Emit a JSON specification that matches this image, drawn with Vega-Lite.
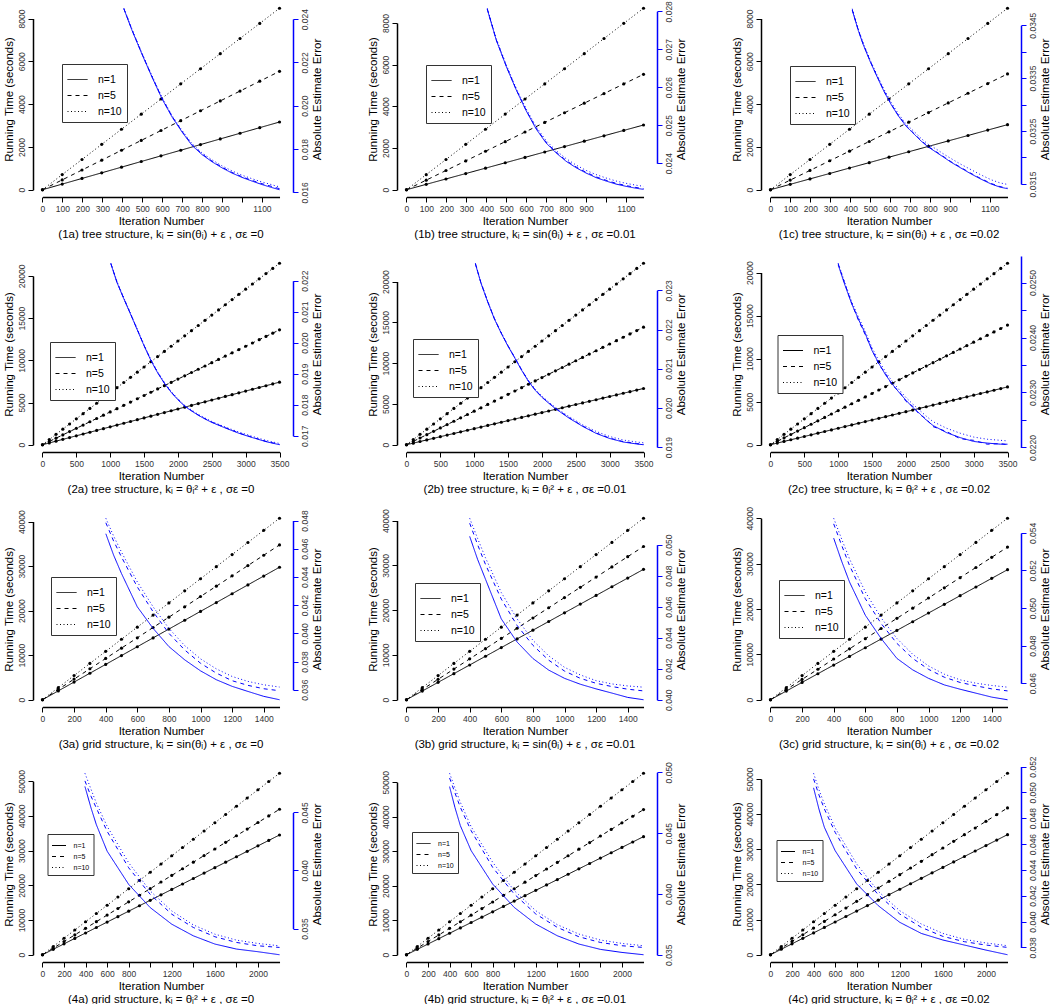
{
"$schema": "https://vega.github.io/schema/vega-lite/v6.json",
"padding": {"left": 2, "top": 0, "right": 0, "bottom": 0},
"background": "white",
"config": {
  "view": {"stroke": null},
  "font": "Liberation Sans",
  "axis": {"labelFont": "Liberation Sans", "titleFont": "Liberation Sans", "labelFontSize": 8.5, "titleFontSize": 11.5, "titleFontWeight": "normal", "titleColor": "black", "labelColor": "#333", "tickSize": 5, "tickColor": "black", "domainColor": "black", "domainWidth": 1.5, "grid": false, "labelFlush": false, "labelOverlap": false, "labelPadding": 2, "titlePadding": 3, "format": "d"},
  "legend": {"strokeColor": "#333", "fillColor": "white", "padding": 5, "labelFont": "Liberation Sans", "labelFontSize": 10.5, "labelColor": "black", "symbolType": "stroke", "symbolStrokeWidth": 1, "symbolSize": 400, "symbolStrokeColor": "black", "labelOffset": 10, "rowPadding": -4},
  "title": {"font": "Liberation Sans", "fontSize": 11.5, "fontWeight": "normal", "color": "black", "offset": 2}
},
"datasets": {
"time": [
{"p":"1a","x":0,"n=1":0,"n=5":0,"n=10":0},{"p":"1a","x":99,"n=1":264,"n=5":461,"n=10":707},{"p":"1a","x":198,"n=1":528,"n=5":922,"n=10":1413},{"p":"1a","x":297,"n=1":791,"n=5":1383,"n=10":2120},{"p":"1a","x":396,"n=1":1055,"n=5":1844,"n=10":2827},{"p":"1a","x":495,"n=1":1319,"n=5":2305,"n=10":3533},{"p":"1a","x":594,"n=1":1583,"n=5":2767,"n=10":4240},{"p":"1a","x":693,"n=1":1846,"n=5":3228,"n=10":4947},{"p":"1a","x":792,"n=1":2110,"n=5":3689,"n=10":5653},{"p":"1a","x":891,"n=1":2374,"n=5":4150,"n=10":6360},{"p":"1a","x":990,"n=1":2638,"n=5":4611,"n=10":7067},{"p":"1a","x":1089,"n=1":2901,"n=5":5072,"n=10":7773},{"p":"1a","x":1188,"n=1":3165,"n=5":5533,"n=10":8480},
{"p":"1b","x":0,"n=1":0,"n=5":0,"n=10":0},{"p":"1b","x":99,"n=1":259,"n=5":461,"n=10":725},{"p":"1b","x":198,"n=1":517,"n=5":923,"n=10":1451},{"p":"1b","x":297,"n=1":776,"n=5":1384,"n=10":2176},{"p":"1b","x":396,"n=1":1035,"n=5":1845,"n=10":2901},{"p":"1b","x":495,"n=1":1293,"n=5":2307,"n=10":3627},{"p":"1b","x":594,"n=1":1552,"n=5":2768,"n=10":4352},{"p":"1b","x":693,"n=1":1811,"n=5":3229,"n=10":5077},{"p":"1b","x":792,"n=1":2069,"n=5":3691,"n=10":5803},{"p":"1b","x":891,"n=1":2328,"n=5":4152,"n=10":6528},{"p":"1b","x":990,"n=1":2587,"n=5":4613,"n=10":7253},{"p":"1b","x":1089,"n=1":2845,"n=5":5075,"n=10":7979},{"p":"1b","x":1188,"n=1":3104,"n=5":5536,"n=10":8704},
{"p":"1c","x":0,"n=1":0,"n=5":0,"n=10":0},{"p":"1c","x":99,"n=1":253,"n=5":451,"n=10":707},{"p":"1c","x":198,"n=1":507,"n=5":902,"n=10":1413},{"p":"1c","x":297,"n=1":760,"n=5":1353,"n=10":2120},{"p":"1c","x":396,"n=1":1014,"n=5":1804,"n=10":2827},{"p":"1c","x":495,"n=1":1267,"n=5":2255,"n=10":3533},{"p":"1c","x":594,"n=1":1521,"n=5":2706,"n=10":4240},{"p":"1c","x":693,"n=1":1774,"n=5":3156,"n=10":4947},{"p":"1c","x":792,"n=1":2027,"n=5":3607,"n=10":5653},{"p":"1c","x":891,"n=1":2281,"n=5":4058,"n=10":6360},{"p":"1c","x":990,"n=1":2534,"n=5":4509,"n=10":7067},{"p":"1c","x":1089,"n=1":2788,"n=5":4960,"n=10":7773},{"p":"1c","x":1188,"n=1":3041,"n=5":5411,"n=10":8480},
{"p":"2a","x":0,"n=1":0,"n=5":0,"n=10":0},{"p":"2a","x":100,"n=1":212,"n=5":389,"n=10":614},{"p":"2a","x":200,"n=1":424,"n=5":778,"n=10":1229},{"p":"2a","x":300,"n=1":636,"n=5":1167,"n=10":1843},{"p":"2a","x":400,"n=1":848,"n=5":1555,"n=10":2457},{"p":"2a","x":500,"n=1":1059,"n=5":1944,"n=10":3071},{"p":"2a","x":600,"n=1":1271,"n=5":2333,"n=10":3686},{"p":"2a","x":700,"n=1":1483,"n=5":2722,"n=10":4300},{"p":"2a","x":800,"n=1":1695,"n=5":3111,"n=10":4914},{"p":"2a","x":900,"n=1":1907,"n=5":3500,"n=10":5529},{"p":"2a","x":1000,"n=1":2119,"n=5":3889,"n=10":6143},{"p":"2a","x":1100,"n=1":2331,"n=5":4277,"n=10":6757},{"p":"2a","x":1200,"n=1":2543,"n=5":4666,"n=10":7371},{"p":"2a","x":1300,"n=1":2755,"n=5":5055,"n=10":7986},{"p":"2a","x":1400,"n=1":2966,"n=5":5444,"n=10":8600},{"p":"2a","x":1500,"n=1":3178,"n=5":5833,"n=10":9214},{"p":"2a","x":1600,"n=1":3390,"n=5":6222,"n=10":9829},{"p":"2a","x":1700,"n=1":3602,"n=5":6611,"n=10":10443},{"p":"2a","x":1800,"n=1":3814,"n=5":6999,"n=10":11057},{"p":"2a","x":1900,"n=1":4026,"n=5":7388,"n=10":11672},{"p":"2a","x":2000,"n=1":4238,"n=5":7777,"n=10":12286},{"p":"2a","x":2100,"n=1":4450,"n=5":8166,"n=10":12900},{"p":"2a","x":2200,"n=1":4662,"n=5":8555,"n=10":13514},{"p":"2a","x":2300,"n=1":4873,"n=5":8944,"n=10":14129},{"p":"2a","x":2400,"n=1":5085,"n=5":9333,"n=10":14743},{"p":"2a","x":2500,"n=1":5297,"n=5":9722,"n=10":15357},{"p":"2a","x":2600,"n=1":5509,"n=5":10110,"n=10":15972},{"p":"2a","x":2700,"n=1":5721,"n=5":10499,"n=10":16586},{"p":"2a","x":2800,"n=1":5933,"n=5":10888,"n=10":17200},{"p":"2a","x":2900,"n=1":6145,"n=5":11277,"n=10":17814},{"p":"2a","x":3000,"n=1":6357,"n=5":11666,"n=10":18429},{"p":"2a","x":3100,"n=1":6569,"n=5":12055,"n=10":19043},{"p":"2a","x":3200,"n=1":6780,"n=5":12444,"n=10":19657},{"p":"2a","x":3300,"n=1":6992,"n=5":12832,"n=10":20272},{"p":"2a","x":3400,"n=1":7204,"n=5":13221,"n=10":20886},{"p":"2a","x":3500,"n=1":7416,"n=5":13610,"n=10":21500},
{"p":"2b","x":0,"n=1":0,"n=5":0,"n=10":0},{"p":"2b","x":100,"n=1":197,"n=5":412,"n=10":636},{"p":"2b","x":200,"n=1":394,"n=5":823,"n=10":1271},{"p":"2b","x":300,"n=1":591,"n=5":1235,"n=10":1907},{"p":"2b","x":400,"n=1":788,"n=5":1647,"n=10":2542},{"p":"2b","x":500,"n=1":985,"n=5":2058,"n=10":3178},{"p":"2b","x":600,"n=1":1183,"n=5":2470,"n=10":3813},{"p":"2b","x":700,"n=1":1380,"n=5":2882,"n=10":4449},{"p":"2b","x":800,"n=1":1577,"n=5":3293,"n=10":5085},{"p":"2b","x":900,"n=1":1774,"n=5":3705,"n=10":5720},{"p":"2b","x":1000,"n=1":1971,"n=5":4117,"n=10":6356},{"p":"2b","x":1100,"n=1":2168,"n=5":4528,"n=10":6991},{"p":"2b","x":1200,"n=1":2365,"n=5":4940,"n=10":7627},{"p":"2b","x":1300,"n=1":2562,"n=5":5352,"n=10":8262},{"p":"2b","x":1400,"n=1":2759,"n=5":5763,"n=10":8898},{"p":"2b","x":1500,"n=1":2956,"n=5":6175,"n=10":9534},{"p":"2b","x":1600,"n=1":3153,"n=5":6587,"n=10":10169},{"p":"2b","x":1700,"n=1":3351,"n=5":6998,"n=10":10805},{"p":"2b","x":1800,"n=1":3548,"n=5":7410,"n=10":11440},{"p":"2b","x":1900,"n=1":3745,"n=5":7822,"n=10":12076},{"p":"2b","x":2000,"n=1":3942,"n=5":8233,"n=10":12711},{"p":"2b","x":2100,"n=1":4139,"n=5":8645,"n=10":13347},{"p":"2b","x":2200,"n=1":4336,"n=5":9057,"n=10":13983},{"p":"2b","x":2300,"n=1":4533,"n=5":9468,"n=10":14618},{"p":"2b","x":2400,"n=1":4730,"n=5":9880,"n=10":15254},{"p":"2b","x":2500,"n=1":4927,"n=5":10292,"n=10":15889},{"p":"2b","x":2600,"n=1":5124,"n=5":10703,"n=10":16525},{"p":"2b","x":2700,"n=1":5321,"n=5":11115,"n=10":17160},{"p":"2b","x":2800,"n=1":5519,"n=5":11526,"n=10":17796},{"p":"2b","x":2900,"n=1":5716,"n=5":11938,"n=10":18432},{"p":"2b","x":3000,"n=1":5913,"n=5":12350,"n=10":19067},{"p":"2b","x":3100,"n=1":6110,"n=5":12761,"n=10":19703},{"p":"2b","x":3200,"n=1":6307,"n=5":13173,"n=10":20338},{"p":"2b","x":3300,"n=1":6504,"n=5":13585,"n=10":20974},{"p":"2b","x":3400,"n=1":6701,"n=5":13996,"n=10":21609},{"p":"2b","x":3500,"n=1":6898,"n=5":14408,"n=10":22245},
{"p":"2c","x":0,"n=1":0,"n=5":0,"n=10":0},{"p":"2c","x":100,"n=1":192,"n=5":397,"n=10":602},{"p":"2c","x":200,"n=1":384,"n=5":794,"n=10":1205},{"p":"2c","x":300,"n=1":576,"n=5":1192,"n=10":1807},{"p":"2c","x":400,"n=1":768,"n=5":1589,"n=10":2410},{"p":"2c","x":500,"n=1":960,"n=5":1986,"n=10":3012},{"p":"2c","x":600,"n=1":1152,"n=5":2383,"n=10":3615},{"p":"2c","x":700,"n=1":1344,"n=5":2781,"n=10":4217},{"p":"2c","x":800,"n=1":1536,"n=5":3178,"n=10":4820},{"p":"2c","x":900,"n=1":1727,"n=5":3575,"n=10":5422},{"p":"2c","x":1000,"n=1":1919,"n=5":3972,"n=10":6025},{"p":"2c","x":1100,"n=1":2111,"n=5":4370,"n=10":6627},{"p":"2c","x":1200,"n=1":2303,"n=5":4767,"n=10":7230},{"p":"2c","x":1300,"n=1":2495,"n=5":5164,"n=10":7832},{"p":"2c","x":1400,"n=1":2687,"n=5":5561,"n=10":8435},{"p":"2c","x":1500,"n=1":2879,"n=5":5958,"n=10":9037},{"p":"2c","x":1600,"n=1":3071,"n=5":6356,"n=10":9640},{"p":"2c","x":1700,"n=1":3263,"n=5":6753,"n=10":10242},{"p":"2c","x":1800,"n=1":3455,"n=5":7150,"n=10":10845},{"p":"2c","x":1900,"n=1":3647,"n=5":7547,"n=10":11447},{"p":"2c","x":2000,"n=1":3839,"n=5":7945,"n=10":12050},{"p":"2c","x":2100,"n=1":4031,"n=5":8342,"n=10":12652},{"p":"2c","x":2200,"n=1":4223,"n=5":8739,"n=10":13255},{"p":"2c","x":2300,"n=1":4415,"n=5":9136,"n=10":13857},{"p":"2c","x":2400,"n=1":4607,"n=5":9534,"n=10":14460},{"p":"2c","x":2500,"n=1":4799,"n=5":9931,"n=10":15062},{"p":"2c","x":2600,"n=1":4990,"n=5":10328,"n=10":15665},{"p":"2c","x":2700,"n=1":5182,"n=5":10725,"n=10":16267},{"p":"2c","x":2800,"n=1":5374,"n=5":11122,"n=10":16870},{"p":"2c","x":2900,"n=1":5566,"n=5":11520,"n=10":17472},{"p":"2c","x":3000,"n=1":5758,"n=5":11917,"n=10":18075},{"p":"2c","x":3100,"n=1":5950,"n=5":12314,"n=10":18677},{"p":"2c","x":3200,"n=1":6142,"n=5":12711,"n=10":19280},{"p":"2c","x":3300,"n=1":6334,"n=5":13109,"n=10":19882},{"p":"2c","x":3400,"n=1":6526,"n=5":13506,"n=10":20485},{"p":"2c","x":3500,"n=1":6718,"n=5":13903,"n=10":21087},
{"p":"3a","x":0,"n=1":0,"n=5":0,"n=10":0},{"p":"3a","x":100,"n=1":1984,"n=5":2318,"n=10":2717},{"p":"3a","x":200,"n=1":3968,"n=5":4635,"n=10":5433},{"p":"3a","x":300,"n=1":5951,"n=5":6953,"n=10":8150},{"p":"3a","x":400,"n=1":7935,"n=5":9271,"n=10":10866},{"p":"3a","x":500,"n=1":9919,"n=5":11589,"n=10":13583},{"p":"3a","x":600,"n=1":11903,"n=5":13906,"n=10":16299},{"p":"3a","x":700,"n=1":13887,"n=5":16224,"n=10":19016},{"p":"3a","x":800,"n=1":15870,"n=5":18542,"n=10":21732},{"p":"3a","x":900,"n=1":17854,"n=5":20859,"n=10":24449},{"p":"3a","x":1000,"n=1":19838,"n=5":23177,"n=10":27165},{"p":"3a","x":1100,"n=1":21822,"n=5":25495,"n=10":29882},{"p":"3a","x":1200,"n=1":23806,"n=5":27812,"n=10":32598},{"p":"3a","x":1300,"n=1":25789,"n=5":30130,"n=10":35315},{"p":"3a","x":1400,"n=1":27773,"n=5":32448,"n=10":38031},{"p":"3a","x":1500,"n=1":29757,"n=5":34766,"n=10":40748},
{"p":"3b","x":0,"n=1":0,"n=5":0,"n=10":0},{"p":"3b","x":100,"n=1":1941,"n=5":2281,"n=10":2701},{"p":"3b","x":200,"n=1":3881,"n=5":4563,"n=10":5402},{"p":"3b","x":300,"n=1":5822,"n=5":6844,"n=10":8104},{"p":"3b","x":400,"n=1":7763,"n=5":9126,"n=10":10805},{"p":"3b","x":500,"n=1":9704,"n=5":11407,"n=10":13506},{"p":"3b","x":600,"n=1":11644,"n=5":13689,"n=10":16207},{"p":"3b","x":700,"n=1":13585,"n=5":15970,"n=10":18908},{"p":"3b","x":800,"n=1":15526,"n=5":18252,"n=10":21610},{"p":"3b","x":900,"n=1":17466,"n=5":20533,"n=10":24311},{"p":"3b","x":1000,"n=1":19407,"n=5":22815,"n=10":27012},{"p":"3b","x":1100,"n=1":21348,"n=5":25096,"n=10":29713},{"p":"3b","x":1200,"n=1":23288,"n=5":27378,"n=10":32414},{"p":"3b","x":1300,"n=1":25229,"n=5":29659,"n=10":35116},{"p":"3b","x":1400,"n=1":27170,"n=5":31941,"n=10":37817},{"p":"3b","x":1500,"n=1":29111,"n=5":34222,"n=10":40518},
{"p":"3c","x":0,"n=1":0,"n=5":0,"n=10":0},{"p":"3c","x":100,"n=1":1911,"n=5":2243,"n=10":2667},{"p":"3c","x":200,"n=1":3822,"n=5":4485,"n=10":5333},{"p":"3c","x":300,"n=1":5733,"n=5":6728,"n=10":8000},{"p":"3c","x":400,"n=1":7644,"n=5":8970,"n=10":10667},{"p":"3c","x":500,"n=1":9555,"n=5":11213,"n=10":13333},{"p":"3c","x":600,"n=1":11466,"n=5":13455,"n=10":16000},{"p":"3c","x":700,"n=1":13377,"n=5":15698,"n=10":18667},{"p":"3c","x":800,"n=1":15288,"n=5":17940,"n=10":21333},{"p":"3c","x":900,"n=1":17199,"n=5":20183,"n=10":24000},{"p":"3c","x":1000,"n=1":19110,"n=5":22425,"n=10":26667},{"p":"3c","x":1100,"n=1":21021,"n=5":24668,"n=10":29333},{"p":"3c","x":1200,"n=1":22932,"n=5":26910,"n=10":32000},{"p":"3c","x":1300,"n=1":24843,"n=5":29153,"n=10":34667},{"p":"3c","x":1400,"n=1":26754,"n=5":31395,"n=10":37333},{"p":"3c","x":1500,"n=1":28665,"n=5":33638,"n=10":40000},
{"p":"4a","x":0,"n=1":0,"n=5":0,"n=10":0},{"p":"4a","x":100,"n=1":1569,"n=5":1906,"n=10":2378},{"p":"4a","x":200,"n=1":3138,"n=5":3811,"n=10":4755},{"p":"4a","x":300,"n=1":4707,"n=5":5717,"n=10":7133},{"p":"4a","x":400,"n=1":6276,"n=5":7622,"n=10":9510},{"p":"4a","x":500,"n=1":7845,"n=5":9528,"n=10":11888},{"p":"4a","x":600,"n=1":9414,"n=5":11434,"n=10":14266},{"p":"4a","x":700,"n=1":10983,"n=5":13339,"n=10":16643},{"p":"4a","x":800,"n=1":12552,"n=5":15245,"n=10":19021},{"p":"4a","x":900,"n=1":14121,"n=5":17150,"n=10":21398},{"p":"4a","x":1000,"n=1":15690,"n=5":19056,"n=10":23776},{"p":"4a","x":1100,"n=1":17259,"n=5":20962,"n=10":26154},{"p":"4a","x":1200,"n=1":18828,"n=5":22867,"n=10":28531},{"p":"4a","x":1300,"n=1":20397,"n=5":24773,"n=10":30909},{"p":"4a","x":1400,"n=1":21966,"n=5":26678,"n=10":33286},{"p":"4a","x":1500,"n=1":23535,"n=5":28584,"n=10":35664},{"p":"4a","x":1600,"n=1":25104,"n=5":30490,"n=10":38042},{"p":"4a","x":1700,"n=1":26673,"n=5":32395,"n=10":40419},{"p":"4a","x":1800,"n=1":28242,"n=5":34301,"n=10":42797},{"p":"4a","x":1900,"n=1":29811,"n=5":36206,"n=10":45174},{"p":"4a","x":2000,"n=1":31380,"n=5":38112,"n=10":47552},{"p":"4a","x":2100,"n=1":32949,"n=5":40018,"n=10":49930},{"p":"4a","x":2200,"n=1":34519,"n=5":41923,"n=10":52308},
{"p":"4b","x":0,"n=1":0,"n=5":0,"n=10":0},{"p":"4b","x":100,"n=1":1556,"n=5":1912,"n=10":2391},{"p":"4b","x":200,"n=1":3112,"n=5":3825,"n=10":4783},{"p":"4b","x":300,"n=1":4669,"n=5":5737,"n=10":7174},{"p":"4b","x":400,"n=1":6225,"n=5":7649,"n=10":9566},{"p":"4b","x":500,"n=1":7781,"n=5":9562,"n=10":11957},{"p":"4b","x":600,"n=1":9337,"n=5":11474,"n=10":14348},{"p":"4b","x":700,"n=1":10893,"n=5":13386,"n=10":16740},{"p":"4b","x":800,"n=1":12450,"n=5":15298,"n=10":19131},{"p":"4b","x":900,"n=1":14006,"n=5":17211,"n=10":21523},{"p":"4b","x":1000,"n=1":15562,"n=5":19123,"n=10":23914},{"p":"4b","x":1100,"n=1":17118,"n=5":21035,"n=10":26305},{"p":"4b","x":1200,"n=1":18674,"n=5":22948,"n=10":28697},{"p":"4b","x":1300,"n=1":20231,"n=5":24860,"n=10":31088},{"p":"4b","x":1400,"n=1":21787,"n=5":26772,"n=10":33480},{"p":"4b","x":1500,"n=1":23343,"n=5":28685,"n=10":35871},{"p":"4b","x":1600,"n=1":24899,"n=5":30597,"n=10":38262},{"p":"4b","x":1700,"n=1":26455,"n=5":32509,"n=10":40654},{"p":"4b","x":1800,"n=1":28012,"n=5":34421,"n=10":43045},{"p":"4b","x":1900,"n=1":29568,"n=5":36334,"n=10":45437},{"p":"4b","x":2000,"n=1":31124,"n=5":38246,"n=10":47828},{"p":"4b","x":2100,"n=1":32680,"n=5":40158,"n=10":50219},{"p":"4b","x":2200,"n=1":34236,"n=5":42070,"n=10":52611},
{"p":"4c","x":0,"n=1":0,"n=5":0,"n=10":0},{"p":"4c","x":100,"n=1":1553,"n=5":1898,"n=10":2346},{"p":"4c","x":200,"n=1":3105,"n=5":3795,"n=10":4692},{"p":"4c","x":300,"n=1":4658,"n=5":5693,"n=10":7038},{"p":"4c","x":400,"n=1":6210,"n=5":7590,"n=10":9384},{"p":"4c","x":500,"n=1":7763,"n=5":9488,"n=10":11730},{"p":"4c","x":600,"n=1":9315,"n=5":11385,"n=10":14076},{"p":"4c","x":700,"n=1":10868,"n=5":13283,"n=10":16422},{"p":"4c","x":800,"n=1":12420,"n=5":15180,"n=10":18768},{"p":"4c","x":900,"n=1":13973,"n=5":17078,"n=10":21114},{"p":"4c","x":1000,"n=1":15525,"n=5":18975,"n=10":23460},{"p":"4c","x":1100,"n=1":17078,"n=5":20873,"n=10":25806},{"p":"4c","x":1200,"n=1":18630,"n=5":22770,"n=10":28152},{"p":"4c","x":1300,"n=1":20183,"n=5":24668,"n=10":30498},{"p":"4c","x":1400,"n=1":21735,"n=5":26565,"n=10":32844},{"p":"4c","x":1500,"n=1":23288,"n=5":28463,"n=10":35190},{"p":"4c","x":1600,"n=1":24840,"n=5":30360,"n=10":37536},{"p":"4c","x":1700,"n=1":26393,"n=5":32258,"n=10":39882},{"p":"4c","x":1800,"n=1":27945,"n=5":34155,"n=10":42228},{"p":"4c","x":1900,"n=1":29498,"n=5":36053,"n=10":44574},{"p":"4c","x":2000,"n=1":31050,"n=5":37950,"n=10":46920},{"p":"4c","x":2100,"n=1":32603,"n=5":39848,"n=10":49266},{"p":"4c","x":2200,"n=1":34156,"n=5":41746,"n=10":51612}
],
"err": [
{"p":"1a","x":408,"n=1":0.02447,"n=5":0.02448,"n=10":0.0245},{"p":"1a","x":450,"n=1":0.02345,"n=5":0.02347,"n=10":0.0235},{"p":"1a","x":500,"n=1":0.02235,"n=5":0.02237,"n=10":0.0224},{"p":"1a","x":550,"n=1":0.0213,"n=5":0.02132,"n=10":0.02136},{"p":"1a","x":600,"n=1":0.0203,"n=5":0.02033,"n=10":0.02037},{"p":"1a","x":650,"n=1":0.01947,"n=5":0.0195,"n=10":0.01954},{"p":"1a","x":700,"n=1":0.01878,"n=5":0.01881,"n=10":0.01885},{"p":"1a","x":750,"n=1":0.01816,"n=5":0.01819,"n=10":0.01824},{"p":"1a","x":800,"n=1":0.01774,"n=5":0.01777,"n=10":0.01782},{"p":"1a","x":850,"n=1":0.01741,"n=5":0.01744,"n=10":0.0175},{"p":"1a","x":900,"n=1":0.01713,"n=5":0.01716,"n=10":0.01722},{"p":"1a","x":950,"n=1":0.01689,"n=5":0.01692,"n=10":0.01699},{"p":"1a","x":1000,"n=1":0.01669,"n=5":0.01672,"n=10":0.01679},{"p":"1a","x":1050,"n=1":0.01652,"n=5":0.01655,"n=10":0.01663},{"p":"1a","x":1100,"n=1":0.01636,"n=5":0.0164,"n=10":0.01648},{"p":"1a","x":1150,"n=1":0.01622,"n=5":0.01627,"n=10":0.01635},{"p":"1a","x":1188,"n=1":0.01612,"n=5":0.01617,"n=10":0.01625},
{"p":"1b","x":405,"n=1":0.02805,"n=5":0.02806,"n=10":0.02808},{"p":"1b","x":450,"n=1":0.02724,"n=5":0.02725,"n=10":0.02728},{"p":"1b","x":500,"n=1":0.02655,"n=5":0.02656,"n=10":0.02659},{"p":"1b","x":550,"n=1":0.02593,"n=5":0.02594,"n=10":0.02597},{"p":"1b","x":600,"n=1":0.02538,"n=5":0.02539,"n=10":0.02543},{"p":"1b","x":650,"n=1":0.0249,"n=5":0.02492,"n=10":0.02496},{"p":"1b","x":700,"n=1":0.02453,"n=5":0.02455,"n=10":0.02459},{"p":"1b","x":750,"n=1":0.02427,"n=5":0.02429,"n=10":0.02433},{"p":"1b","x":800,"n=1":0.02405,"n=5":0.02407,"n=10":0.02412},{"p":"1b","x":850,"n=1":0.02388,"n=5":0.0239,"n=10":0.02395},{"p":"1b","x":900,"n=1":0.02374,"n=5":0.02376,"n=10":0.02381},{"p":"1b","x":950,"n=1":0.02362,"n=5":0.02364,"n=10":0.0237},{"p":"1b","x":1000,"n=1":0.02353,"n=5":0.02355,"n=10":0.02361},{"p":"1b","x":1050,"n=1":0.02345,"n=5":0.02347,"n=10":0.02353},{"p":"1b","x":1100,"n=1":0.02339,"n=5":0.02341,"n=10":0.02347},{"p":"1b","x":1150,"n=1":0.02334,"n=5":0.02336,"n=10":0.02342},{"p":"1b","x":1188,"n=1":0.02331,"n=5":0.02333,"n=10":0.02339},
{"p":"1c","x":410,"n=1":0.03478,"n=5":0.03479,"n=10":0.03481},{"p":"1c","x":440,"n=1":0.0344,"n=5":0.03441,"n=10":0.03443},{"p":"1c","x":465,"n=1":0.03413,"n=5":0.03414,"n=10":0.03416},{"p":"1c","x":500,"n=1":0.03381,"n=5":0.03382,"n=10":0.03384},{"p":"1c","x":530,"n=1":0.03356,"n=5":0.03357,"n=10":0.03359},{"p":"1c","x":570,"n=1":0.03324,"n=5":0.03325,"n=10":0.03328},{"p":"1c","x":605,"n=1":0.033,"n=5":0.03301,"n=10":0.03304},{"p":"1c","x":640,"n=1":0.03279,"n=5":0.0328,"n=10":0.03283},{"p":"1c","x":680,"n=1":0.03259,"n=5":0.0326,"n=10":0.03263},{"p":"1c","x":720,"n=1":0.03244,"n=5":0.03245,"n=10":0.03249},{"p":"1c","x":755,"n=1":0.03231,"n=5":0.03232,"n=10":0.03236},{"p":"1c","x":790,"n=1":0.0322,"n=5":0.03221,"n=10":0.03225},{"p":"1c","x":830,"n=1":0.0321,"n=5":0.03211,"n=10":0.03216},{"p":"1c","x":870,"n=1":0.032,"n=5":0.03201,"n=10":0.03206},{"p":"1c","x":905,"n=1":0.03191,"n=5":0.03192,"n=10":0.03198},{"p":"1c","x":950,"n=1":0.03181,"n=5":0.03182,"n=10":0.03188},{"p":"1c","x":1005,"n=1":0.03169,"n=5":0.0317,"n=10":0.03177},{"p":"1c","x":1050,"n=1":0.0316,"n=5":0.03161,"n=10":0.03168},{"p":"1c","x":1105,"n=1":0.0315,"n=5":0.03151,"n=10":0.03158},{"p":"1c","x":1150,"n=1":0.03144,"n=5":0.03145,"n=10":0.03152},{"p":"1c","x":1188,"n=1":0.03141,"n=5":0.03142,"n=10":0.03149},
{"p":"2a","x":1010,"n=1":0.02254,"n=5":0.02255,"n=10":0.02256},{"p":"2a","x":1100,"n=1":0.02194,"n=5":0.02195,"n=10":0.02197},{"p":"2a","x":1200,"n=1":0.02142,"n=5":0.02143,"n=10":0.02145},{"p":"2a","x":1300,"n=1":0.02092,"n=5":0.02093,"n=10":0.02095},{"p":"2a","x":1400,"n=1":0.02041,"n=5":0.02042,"n=10":0.02044},{"p":"2a","x":1500,"n=1":0.0199,"n=5":0.01991,"n=10":0.01993},{"p":"2a","x":1600,"n=1":0.01943,"n=5":0.01944,"n=10":0.01946},{"p":"2a","x":1700,"n=1":0.01903,"n=5":0.01904,"n=10":0.01906},{"p":"2a","x":1800,"n=1":0.01869,"n=5":0.0187,"n=10":0.01872},{"p":"2a","x":1900,"n=1":0.0184,"n=5":0.01841,"n=10":0.01843},{"p":"2a","x":2000,"n=1":0.01816,"n=5":0.01817,"n=10":0.01819},{"p":"2a","x":2100,"n=1":0.01795,"n=5":0.01796,"n=10":0.01798},{"p":"2a","x":2200,"n=1":0.0178,"n=5":0.01781,"n=10":0.01783},{"p":"2a","x":2300,"n=1":0.01766,"n=5":0.01767,"n=10":0.01769},{"p":"2a","x":2400,"n=1":0.01754,"n=5":0.01755,"n=10":0.01757},{"p":"2a","x":2500,"n=1":0.01743,"n=5":0.01744,"n=10":0.01746},{"p":"2a","x":2700,"n=1":0.01725,"n=5":0.01726,"n=10":0.01728},{"p":"2a","x":2900,"n=1":0.01708,"n=5":0.01709,"n=10":0.01712},{"p":"2a","x":3100,"n=1":0.01694,"n=5":0.01695,"n=10":0.01698},{"p":"2a","x":3300,"n=1":0.01681,"n=5":0.01682,"n=10":0.01685},{"p":"2a","x":3500,"n=1":0.01671,"n=5":0.01672,"n=10":0.01675},
{"p":"2b","x":1018,"n=1":0.02367,"n=5":0.02368,"n=10":0.02369},{"p":"2b","x":1100,"n=1":0.02318,"n=5":0.02319,"n=10":0.0232},{"p":"2b","x":1200,"n=1":0.0227,"n=5":0.02271,"n=10":0.02272},{"p":"2b","x":1300,"n=1":0.02226,"n=5":0.02227,"n=10":0.02228},{"p":"2b","x":1400,"n=1":0.0219,"n=5":0.02191,"n=10":0.02192},{"p":"2b","x":1500,"n=1":0.02157,"n=5":0.02158,"n=10":0.02159},{"p":"2b","x":1600,"n=1":0.02127,"n=5":0.02128,"n=10":0.02129},{"p":"2b","x":1700,"n=1":0.02096,"n=5":0.02097,"n=10":0.02098},{"p":"2b","x":1800,"n=1":0.02068,"n=5":0.02069,"n=10":0.0207},{"p":"2b","x":1900,"n=1":0.02045,"n=5":0.02046,"n=10":0.02048},{"p":"2b","x":2000,"n=1":0.02027,"n=5":0.02028,"n=10":0.0203},{"p":"2b","x":2100,"n=1":0.02012,"n=5":0.02013,"n=10":0.02015},{"p":"2b","x":2200,"n=1":0.01998,"n=5":0.01999,"n=10":0.02001},{"p":"2b","x":2400,"n=1":0.01974,"n=5":0.01975,"n=10":0.01978},{"p":"2b","x":2600,"n=1":0.01953,"n=5":0.01954,"n=10":0.01957},{"p":"2b","x":2800,"n=1":0.01935,"n=5":0.01936,"n=10":0.0194},{"p":"2b","x":3000,"n=1":0.01922,"n=5":0.01923,"n=10":0.01927},{"p":"2b","x":3200,"n=1":0.01913,"n=5":0.01914,"n=10":0.01918},{"p":"2b","x":3400,"n=1":0.01908,"n=5":0.01909,"n=10":0.01913},{"p":"2b","x":3500,"n=1":0.01906,"n=5":0.01907,"n=10":0.01911},
{"p":"2c","x":1000,"n=1":0.02532,"n=5":0.02534,"n=10":0.02535},{"p":"2c","x":1100,"n=1":0.02495,"n=5":0.02497,"n=10":0.02499},{"p":"2c","x":1200,"n=1":0.02461,"n=5":0.02462,"n=10":0.02465},{"p":"2c","x":1300,"n=1":0.02433,"n=5":0.02431,"n=10":0.02437},{"p":"2c","x":1400,"n=1":0.02407,"n=5":0.02405,"n=10":0.02411},{"p":"2c","x":1500,"n=1":0.02376,"n=5":0.02378,"n=10":0.02381},{"p":"2c","x":1600,"n=1":0.02353,"n=5":0.02351,"n=10":0.02358},{"p":"2c","x":1700,"n=1":0.02332,"n=5":0.02334,"n=10":0.02337},{"p":"2c","x":1800,"n=1":0.02315,"n=5":0.02313,"n=10":0.0232},{"p":"2c","x":1900,"n=1":0.023,"n=5":0.02302,"n=10":0.02305},{"p":"2c","x":2000,"n=1":0.02286,"n=5":0.02284,"n=10":0.02291},{"p":"2c","x":2100,"n=1":0.02273,"n=5":0.02275,"n=10":0.02279},{"p":"2c","x":2200,"n=1":0.02262,"n=5":0.0226,"n=10":0.02268},{"p":"2c","x":2300,"n=1":0.0225,"n=5":0.02252,"n=10":0.02257},{"p":"2c","x":2400,"n=1":0.0224,"n=5":0.02238,"n=10":0.02247},{"p":"2c","x":2600,"n=1":0.02227,"n=5":0.02229,"n=10":0.02235},{"p":"2c","x":2800,"n=1":0.02218,"n=5":0.02216,"n=10":0.02226},{"p":"2c","x":3000,"n=1":0.02211,"n=5":0.02213,"n=10":0.02219},{"p":"2c","x":3200,"n=1":0.02208,"n=5":0.02206,"n=10":0.02215},{"p":"2c","x":3400,"n=1":0.02206,"n=5":0.02207,"n=10":0.02213},{"p":"2c","x":3500,"n=1":0.02206,"n=5":0.02205,"n=10":0.02212},
{"p":"3a","x":401,"n=1":0.04706,"n=5":0.04784,"n=10":0.04816},{"p":"3a","x":450,"n=1":0.04555,"n=5":0.04655,"n=10":0.0469},{"p":"3a","x":500,"n=1":0.04424,"n=5":0.04541,"n=10":0.04576},{"p":"3a","x":600,"n=1":0.04188,"n=5":0.04329,"n=10":0.04365},{"p":"3a","x":700,"n=1":0.04035,"n=5":0.04153,"n=10":0.04188},{"p":"3a","x":800,"n=1":0.03906,"n=5":0.04,"n=10":0.04035},{"p":"3a","x":900,"n=1":0.03812,"n=5":0.03882,"n=10":0.03913},{"p":"3a","x":1000,"n=1":0.03734,"n=5":0.03788,"n=10":0.03819},{"p":"3a","x":1100,"n=1":0.03671,"n=5":0.03718,"n=10":0.03748},{"p":"3a","x":1200,"n=1":0.03624,"n=5":0.03664,"n=10":0.03694},{"p":"3a","x":1300,"n=1":0.03588,"n=5":0.03631,"n=10":0.03659},{"p":"3a","x":1400,"n=1":0.03553,"n=5":0.03607,"n=10":0.03635},{"p":"3a","x":1500,"n=1":0.03529,"n=5":0.03593,"n=10":0.03619},
{"p":"3b","x":400,"n=1":0.05053,"n=5":0.05138,"n=10":0.0517},{"p":"3b","x":450,"n=1":0.04905,"n=5":0.05,"n=10":0.0504},{"p":"3b","x":500,"n=1":0.04777,"n=5":0.04872,"n=10":0.04915},{"p":"3b","x":600,"n=1":0.04521,"n=5":0.04649,"n=10":0.04691},{"p":"3b","x":700,"n=1":0.04372,"n=5":0.04479,"n=10":0.04521},{"p":"3b","x":800,"n=1":0.04266,"n=5":0.04351,"n=10":0.04383},{"p":"3b","x":900,"n=1":0.04191,"n=5":0.04255,"n=10":0.04283},{"p":"3b","x":1000,"n=1":0.04138,"n=5":0.04185,"n=10":0.04209},{"p":"3b","x":1100,"n=1":0.041,"n=5":0.04138,"n=10":0.0416},{"p":"3b","x":1200,"n=1":0.0407,"n=5":0.04106,"n=10":0.04123},{"p":"3b","x":1300,"n=1":0.04043,"n=5":0.04085,"n=10":0.04102},{"p":"3b","x":1400,"n=1":0.04015,"n=5":0.04068,"n=10":0.04089},{"p":"3b","x":1500,"n=1":0.04,"n=5":0.04057,"n=10":0.04081},
{"p":"3c","x":400,"n=1":0.05372,"n=5":0.05448,"n=10":0.05478},{"p":"3c","x":450,"n=1":0.0525,"n=5":0.05335,"n=10":0.05368},{"p":"3c","x":500,"n=1":0.05139,"n=5":0.05227,"n=10":0.05262},{"p":"3c","x":600,"n=1":0.04962,"n=5":0.0505,"n=10":0.05086},{"p":"3c","x":700,"n=1":0.04838,"n=5":0.04918,"n=10":0.04948},{"p":"3c","x":800,"n=1":0.04732,"n=5":0.04812,"n=10":0.04838},{"p":"3c","x":900,"n=1":0.04671,"n=5":0.04732,"n=10":0.04754},{"p":"3c","x":1000,"n=1":0.04626,"n=5":0.04674,"n=10":0.04692},{"p":"3c","x":1100,"n=1":0.04591,"n=5":0.04632,"n=10":0.04648},{"p":"3c","x":1200,"n=1":0.04568,"n=5":0.04604,"n=10":0.04618},{"p":"3c","x":1300,"n=1":0.04547,"n=5":0.04586,"n=10":0.046},{"p":"3c","x":1400,"n=1":0.04526,"n=5":0.0457,"n=10":0.04588},{"p":"3c","x":1500,"n=1":0.04512,"n=5":0.04559,"n=10":0.04579},
{"p":"4a","x":394,"n=1":0.04723,"n=5":0.04771,"n=10":0.04837},{"p":"4a","x":450,"n=1":0.0454,"n=5":0.0464,"n=10":0.047},{"p":"4a","x":500,"n=1":0.04394,"n=5":0.04537,"n=10":0.0458},{"p":"4a","x":600,"n=1":0.04166,"n=5":0.04337,"n=10":0.0438},{"p":"4a","x":800,"n=1":0.0388,"n=5":0.04023,"n=10":0.04066},{"p":"4a","x":1000,"n=1":0.0368,"n=5":0.03794,"n=10":0.03823},{"p":"4a","x":1200,"n=1":0.03537,"n=5":0.03623,"n=10":0.03651},{"p":"4a","x":1400,"n=1":0.03437,"n=5":0.03509,"n=10":0.03531},{"p":"4a","x":1600,"n=1":0.03366,"n=5":0.03429,"n=10":0.03451},{"p":"4a","x":1800,"n=1":0.03323,"n=5":0.0338,"n=10":0.034},{"p":"4a","x":2000,"n=1":0.033,"n=5":0.03351,"n=10":0.03371},{"p":"4a","x":2200,"n=1":0.03274,"n=5":0.03337,"n=10":0.03351},
{"p":"4b","x":400,"n=1":0.04882,"n=5":0.04953,"n=10":0.04992},{"p":"4b","x":450,"n=1":0.0471,"n=5":0.0483,"n=10":0.0487},{"p":"4b","x":500,"n=1":0.04561,"n=5":0.04712,"n=10":0.04753},{"p":"4b","x":600,"n=1":0.04356,"n=5":0.0452,"n=10":0.04553},{"p":"4b","x":800,"n=1":0.04081,"n=5":0.04218,"n=10":0.0426},{"p":"4b","x":1000,"n=1":0.03889,"n=5":0.03999,"n=10":0.04027},{"p":"4b","x":1200,"n=1":0.03752,"n=5":0.03835,"n=10":0.03862},{"p":"4b","x":1400,"n=1":0.03656,"n=5":0.03725,"n=10":0.03747},{"p":"4b","x":1600,"n=1":0.03588,"n=5":0.03648,"n=10":0.0367},{"p":"4b","x":1800,"n=1":0.03544,"n=5":0.03601,"n=10":0.03621},{"p":"4b","x":2000,"n=1":0.03519,"n=5":0.03574,"n=10":0.03593},{"p":"4b","x":2200,"n=1":0.035,"n=5":0.0356,"n=10":0.03574},
{"p":"4c","x":400,"n=1":0.05035,"n=5":0.05104,"n=10":0.05148},{"p":"4c","x":450,"n=1":0.0487,"n=5":0.0498,"n=10":0.0502},{"p":"4c","x":500,"n=1":0.0473,"n=5":0.04872,"n=10":0.04911},{"p":"4c","x":600,"n=1":0.04549,"n=5":0.04691,"n=10":0.04725},{"p":"4c","x":800,"n=1":0.04291,"n=5":0.04407,"n=10":0.04446},{"p":"4c","x":1000,"n=1":0.04123,"n=5":0.04208,"n=10":0.04234},{"p":"4c","x":1200,"n=1":0.03994,"n=5":0.04058,"n=10":0.04084},{"p":"4c","x":1400,"n=1":0.03908,"n=5":0.03955,"n=10":0.03981},{"p":"4c","x":1600,"n=1":0.03857,"n=5":0.03885,"n=10":0.03908},{"p":"4c","x":1800,"n=1":0.03818,"n=5":0.03844,"n=10":0.03862},{"p":"4c","x":2000,"n=1":0.03779,"n=5":0.03818,"n=10":0.03834},{"p":"4c","x":2200,"n=1":0.03743,"n=5":0.038,"n=10":0.03813}
]
},
"columns": 3,
"bounds": "flush",
"spacing": {"row": 59, "column": 108},
"resolve": {"scale": {"strokeDash": "independent"}, "legend": {"strokeDash": "independent"}},
"concat": [
{"width":256,"height":196,"title":{"text":"(1a) tree structure,  kᵢ = sin(θᵢ) + ε ,  σε =0","orient":"bottom"},
"resolve":{"scale":{"y":"independent"}},
"encoding":{"x":{"field":"x","type":"quantitative","scale":{"domain":[-47.5,1235.5],"nice":false,"zero":false},"axis":{"values":[0,100,200,300,400,500,600,700,800,900,1000,1100],"labelExpr":"datum.value == 1000 ? '' : datum.label","labelOverlap":false,"title":"Iteration Number","domainDash":[0,9.48,237.04,1000]}}},
"layer":[
{"data":{"name":"time"},"transform":[{"filter":"datum.p == '1a'"},{"fold":["n=1","n=5","n=10"],"as":["n","y"]}],
"encoding":{"y":{"field":"y","type":"quantitative","scale":{"domain":[-339,8819],"nice":false,"zero":false},"axis":{"orient":"left","values":[0,2000,4000,6000,8000],"title":"Running Time (seconds)","labelAngle":-90,"labelAlign":"center","labelBaseline":"bottom","domainDash":[0,7.26,171.21,1000]}}},
"layer":[
{"mark":{"type":"line","color":"black","strokeWidth":1},"encoding":{"strokeDash":{"field":"n","type":"nominal","scale":{"domain":["n=1","n=5","n=10"],"range":[[1,0],[4,4],[1,2.5]]},"legend":{"title":null,"orient":"none","legendX":29,"legendY":63}}}},
{"mark":{"type":"circle","color":"black","size":10,"opacity":1},"encoding":{}}
]},
{"data":{"name":"err"},"transform":[{"filter":"datum.p == '1a'"},{"fold":["n=1","n=5","n=10"],"as":["n","y"]}],
"mark":{"type":"line","color":"blue","strokeWidth":1},"encoding":{"y":{"field":"y","type":"quantitative","scale":{"domain":[0.015785,0.024835],"nice":false,"zero":false},"axis":{"orient":"right","values":[0.016,0.018,0.02,0.022,0.024],"format":".3f","title":"Absolute Estimate Error","offset":4,"domainColor":"blue","tickColor":"blue","labelAngle":-90,"labelAlign":"center","labelBaseline":"top","titleAngle":270,"titleBaseline":"top","domainDash":[0,4.66,173.26,1000]}},"strokeDash":{"field":"n","type":"nominal","scale":{"domain":["n=1","n=5","n=10"],"range":[[1,0],[4,4],[1,2.5]]},"legend":{"title":null,"orient":"none","legendX":29,"legendY":63}}}}
]},
{"width":256,"height":196,"title":{"text":"(1b) tree structure,  kᵢ = sin(θᵢ) + ε ,  σε =0.01","orient":"bottom"},
"resolve":{"scale":{"y":"independent"}},
"encoding":{"x":{"field":"x","type":"quantitative","scale":{"domain":[-47.5,1235.5],"nice":false,"zero":false},"axis":{"values":[0,100,200,300,400,500,600,700,800,900,1000,1100],"labelExpr":"datum.value == 1000 ? '' : datum.label","labelOverlap":false,"title":"Iteration Number","domainDash":[0,9.48,237.04,1000]}}},
"layer":[
{"data":{"name":"time"},"transform":[{"filter":"datum.p == '1b'"},{"fold":["n=1","n=5","n=10"],"as":["n","y"]}],
"encoding":{"y":{"field":"y","type":"quantitative","scale":{"domain":[-348,9052],"nice":false,"zero":false},"axis":{"orient":"left","values":[0,2000,4000,6000,8000],"title":"Running Time (seconds)","labelAngle":-90,"labelAlign":"center","labelBaseline":"bottom","domainDash":[0,7.26,166.8,1000]}}},
"layer":[
{"mark":{"type":"line","color":"black","strokeWidth":1},"encoding":{"strokeDash":{"field":"n","type":"nominal","scale":{"domain":["n=1","n=5","n=10"],"range":[[1,0],[4,4],[1,2.5]]},"legend":{"title":null,"orient":"none","legendX":29,"legendY":64}}}},
{"mark":{"type":"circle","color":"black","size":10,"opacity":1},"encoding":{}}
]},
{"data":{"name":"err"},"transform":[{"filter":"datum.p == '1b'"},{"fold":["n=1","n=5","n=10"],"as":["n","y"]}],
"mark":{"type":"line","color":"blue","strokeWidth":1},"encoding":{"y":{"field":"y","type":"quantitative","scale":{"domain":[0.023109,0.028271],"nice":false,"zero":false},"axis":{"orient":"right","values":[0.024,0.025,0.026,0.027,0.028],"format":".3f","title":"Absolute Estimate Error","offset":4,"domainColor":"blue","tickColor":"blue","labelAngle":-90,"labelAlign":"center","labelBaseline":"top","titleAngle":270,"titleBaseline":"top","domainDash":[0,33.83,151.88,1000]}},"strokeDash":{"field":"n","type":"nominal","scale":{"domain":["n=1","n=5","n=10"],"range":[[1,0],[4,4],[1,2.5]]},"legend":{"title":null,"orient":"none","legendX":29,"legendY":64}}}}
]},
{"width":256,"height":196,"title":{"text":"(1c) tree structure,  kᵢ = sin(θᵢ) + ε ,  σε =0.02","orient":"bottom"},
"resolve":{"scale":{"y":"independent"}},
"encoding":{"x":{"field":"x","type":"quantitative","scale":{"domain":[-47.5,1235.5],"nice":false,"zero":false},"axis":{"values":[0,100,200,300,400,500,600,700,800,900,1000,1100],"labelExpr":"datum.value == 1000 ? '' : datum.label","labelOverlap":false,"title":"Iteration Number","domainDash":[0,9.48,237.04,1000]}}},
"layer":[
{"data":{"name":"time"},"transform":[{"filter":"datum.p == '1c'"},{"fold":["n=1","n=5","n=10"],"as":["n","y"]}],
"encoding":{"y":{"field":"y","type":"quantitative","scale":{"domain":[-339,8819],"nice":false,"zero":false},"axis":{"orient":"left","values":[0,2000,4000,6000,8000],"title":"Running Time (seconds)","labelAngle":-90,"labelAlign":"center","labelBaseline":"bottom","domainDash":[0,7.26,171.21,1000]}}},
"layer":[
{"mark":{"type":"line","color":"black","strokeWidth":1},"encoding":{"strokeDash":{"field":"n","type":"nominal","scale":{"domain":["n=1","n=5","n=10"],"range":[[1,0],[4,4],[1,2.5]]},"legend":{"title":null,"orient":"none","legendX":29,"legendY":65}}}},
{"mark":{"type":"circle","color":"black","size":10,"opacity":1},"encoding":{}}
]},
{"data":{"name":"err"},"transform":[{"filter":"datum.p == '1c'"},{"fold":["n=1","n=5","n=10"],"as":["n","y"]}],
"mark":{"type":"line","color":"blue","strokeWidth":1},"encoding":{"y":{"field":"y","type":"quantitative","scale":{"domain":[0.031253,0.034957],"nice":false,"zero":false},"axis":{"orient":"right","values":[0.0315,0.032,0.0325,0.033,0.0335,0.034,0.0345],"labelExpr":"round(datum.value*10000) % 10 == 5 ? format(datum.value, '.4f') : ''","title":"Absolute Estimate Error","offset":4,"domainColor":"blue","tickColor":"blue","labelAngle":-90,"labelAlign":"center","labelBaseline":"top","titleAngle":270,"titleBaseline":"top","domainDash":[0,13.07,158.75,1000]}},"strokeDash":{"field":"n","type":"nominal","scale":{"domain":["n=1","n=5","n=10"],"range":[[1,0],[4,4],[1,2.5]]},"legend":{"title":null,"orient":"none","legendX":29,"legendY":65}}}}
]},
{"width":256,"height":196,"title":{"text":"(2a) tree structure,  kᵢ = θᵢ² + ε ,  σε =0","orient":"bottom"},
"resolve":{"scale":{"y":"independent"}},
"encoding":{"x":{"field":"x","type":"quantitative","scale":{"domain":[-140,3640],"nice":false,"zero":false},"axis":{"values":[0,500,1000,1500,2000,2500,3000,3500],"labelOverlap":false,"title":"Iteration Number","domainDash":[0,9.48,237.04,1000]}}},
"layer":[
{"data":{"name":"time"},"transform":[{"filter":"datum.p == '2a'"},{"fold":["n=1","n=5","n=10"],"as":["n","y"]}],
"encoding":{"y":{"field":"y","type":"quantitative","scale":{"domain":[-860,22360],"nice":false,"zero":false},"axis":{"orient":"left","values":[0,5000,10000,15000,20000],"title":"Running Time (seconds)","labelAngle":-90,"labelAlign":"center","labelBaseline":"bottom","domainDash":[0,7.26,168.82,1000]}}},
"layer":[
{"mark":{"type":"line","color":"black","strokeWidth":1},"encoding":{"strokeDash":{"field":"n","type":"nominal","scale":{"domain":["n=1","n=5","n=10"],"range":[[1,0],[4,4],[1,2.5]]},"legend":{"title":null,"orient":"none","legendX":17,"legendY":86}}}},
{"mark":{"type":"circle","color":"black","size":10,"opacity":1},"encoding":{}}
]},
{"data":{"name":"err"},"transform":[{"filter":"datum.p == '2a'"},{"fold":["n=1","n=5","n=10"],"as":["n","y"]}],
"mark":{"type":"line","color":"blue","strokeWidth":1},"encoding":{"y":{"field":"y","type":"quantitative","scale":{"domain":[0.016476,0.022794],"nice":false,"zero":false},"axis":{"orient":"right","values":[0.017,0.018,0.019,0.02,0.021,0.022],"format":".3f","title":"Absolute Estimate Error","offset":4,"domainColor":"blue","tickColor":"blue","labelAngle":-90,"labelAlign":"center","labelBaseline":"top","titleAngle":270,"titleBaseline":"top","domainDash":[0,16.26,155.11,1000]}},"strokeDash":{"field":"n","type":"nominal","scale":{"domain":["n=1","n=5","n=10"],"range":[[1,0],[4,4],[1,2.5]]},"legend":{"title":null,"orient":"none","legendX":17,"legendY":86}}}}
]},
{"width":256,"height":196,"title":{"text":"(2b) tree structure,  kᵢ = θᵢ² + ε ,  σε =0.01","orient":"bottom"},
"resolve":{"scale":{"y":"independent"}},
"encoding":{"x":{"field":"x","type":"quantitative","scale":{"domain":[-140,3640],"nice":false,"zero":false},"axis":{"values":[0,500,1000,1500,2000,2500,3000,3500],"labelOverlap":false,"title":"Iteration Number","domainDash":[0,9.48,237.04,1000]}}},
"layer":[
{"data":{"name":"time"},"transform":[{"filter":"datum.p == '2b'"},{"fold":["n=1","n=5","n=10"],"as":["n","y"]}],
"encoding":{"y":{"field":"y","type":"quantitative","scale":{"domain":[-890,23135],"nice":false,"zero":false},"axis":{"orient":"left","values":[0,5000,10000,15000,20000],"title":"Running Time (seconds)","labelAngle":-90,"labelAlign":"center","labelBaseline":"bottom","domainDash":[0,7.26,163.17,1000]}}},
"layer":[
{"mark":{"type":"line","color":"black","strokeWidth":1},"encoding":{"strokeDash":{"field":"n","type":"nominal","scale":{"domain":["n=1","n=5","n=10"],"range":[[1,0],[4,4],[1,2.5]]},"legend":{"title":null,"orient":"none","legendX":16,"legendY":83}}}},
{"mark":{"type":"circle","color":"black","size":10,"opacity":1},"encoding":{}}
]},
{"data":{"name":"err"},"transform":[{"filter":"datum.p == '2b'"},{"fold":["n=1","n=5","n=10"],"as":["n","y"]}],
"mark":{"type":"line","color":"blue","strokeWidth":1},"encoding":{"y":{"field":"y","type":"quantitative","scale":{"domain":[0.018875,0.023875],"nice":false,"zero":false},"axis":{"orient":"right","values":[0.019,0.02,0.021,0.022,0.023],"format":".3f","title":"Absolute Estimate Error","offset":4,"domainColor":"blue","tickColor":"blue","labelAngle":-90,"labelAlign":"center","labelBaseline":"top","titleAngle":270,"titleBaseline":"top","domainDash":[0,4.9,156.8,1000]}},"strokeDash":{"field":"n","type":"nominal","scale":{"domain":["n=1","n=5","n=10"],"range":[[1,0],[4,4],[1,2.5]]},"legend":{"title":null,"orient":"none","legendX":16,"legendY":83}}}}
]},
{"width":256,"height":196,"title":{"text":"(2c) tree structure,  kᵢ = θᵢ² + ε ,  σε =0.02","orient":"bottom"},
"resolve":{"scale":{"y":"independent"}},
"encoding":{"x":{"field":"x","type":"quantitative","scale":{"domain":[-140,3640],"nice":false,"zero":false},"axis":{"values":[0,500,1000,1500,2000,2500,3000,3500],"labelOverlap":false,"title":"Iteration Number","domainDash":[0,9.48,237.04,1000]}}},
"layer":[
{"data":{"name":"time"},"transform":[{"filter":"datum.p == '2c'"},{"fold":["n=1","n=5","n=10"],"as":["n","y"]}],
"encoding":{"y":{"field":"y","type":"quantitative","scale":{"domain":[-843,21930],"nice":false,"zero":false},"axis":{"orient":"left","values":[0,5000,10000,15000,20000],"title":"Running Time (seconds)","labelAngle":-90,"labelAlign":"center","labelBaseline":"bottom","domainDash":[0,7.26,172.13,1000]}}},
"layer":[
{"mark":{"type":"line","color":"black","strokeWidth":1},"encoding":{"strokeDash":{"field":"n","type":"nominal","scale":{"domain":["n=1","n=5","n=10"],"range":[[1,0],[4,4],[1,2.5]]},"legend":{"title":null,"orient":"none","legendX":16.5,"legendY":79}}}},
{"mark":{"type":"circle","color":"black","size":10,"opacity":1},"encoding":{}}
]},
{"data":{"name":"err"},"transform":[{"filter":"datum.p == '2c'"},{"fold":["n=1","n=5","n=10"],"as":["n","y"]}],
"mark":{"type":"line","color":"blue","strokeWidth":1},"encoding":{"y":{"field":"y","type":"quantitative","scale":{"domain":[0.021918,0.025482],"nice":false,"zero":false},"axis":{"orient":"right","values":[0.022,0.0225,0.023,0.0235,0.024,0.0245,0.025,0.0255],"labelExpr":"round(datum.value*10000) % 10 == 0 ? format(datum.value, '.4f') : ''","title":"Absolute Estimate Error","offset":4,"domainColor":"blue","tickColor":"blue","labelAngle":-90,"labelAlign":"center","labelBaseline":"top","titleAngle":270,"titleBaseline":"top","domainDash":[0,4.51,192.48,1000]}},"strokeDash":{"field":"n","type":"nominal","scale":{"domain":["n=1","n=5","n=10"],"range":[[1,0],[4,4],[1,2.5]]},"legend":{"title":null,"orient":"none","legendX":16.5,"legendY":79}}}}
]},
{"width":256,"height":196,"title":{"text":"(3a) grid structure,  kᵢ = sin(θᵢ) + ε ,  σε =0","orient":"bottom"},
"resolve":{"scale":{"y":"independent"}},
"encoding":{"x":{"field":"x","type":"quantitative","scale":{"domain":[-60,1560],"nice":false,"zero":false},"axis":{"values":[0,200,400,600,800,1000,1200,1400],"labelOverlap":false,"title":"Iteration Number","domainDash":[0,9.48,237.04,1000]}}},
"layer":[
{"data":{"name":"time"},"transform":[{"filter":"datum.p == '3a'"},{"fold":["n=1","n=5","n=10"],"as":["n","y"]}],
"encoding":{"y":{"field":"y","type":"quantitative","scale":{"domain":[-1630,42378],"nice":false,"zero":false},"axis":{"orient":"left","values":[0,10000,20000,30000,40000],"title":"Running Time (seconds)","labelAngle":-90,"labelAlign":"center","labelBaseline":"bottom","domainDash":[0,7.26,178.15,1000]}}},
"layer":[
{"mark":{"type":"line","color":"black","strokeWidth":1},"encoding":{"strokeDash":{"field":"n","type":"nominal","scale":{"domain":["n=1","n=5","n=10"],"range":[[1,0],[4,4],[1,2.5]]},"legend":{"title":null,"orient":"none","legendX":18,"legendY":66}}}},
{"mark":{"type":"circle","color":"black","size":10,"opacity":1},"encoding":{}}
]},
{"data":{"name":"err"},"transform":[{"filter":"datum.p == '3a'"},{"fold":["n=1","n=5","n=10"],"as":["n","y"]}],
"mark":{"type":"line","color":"blue","strokeWidth":1},"encoding":{"y":{"field":"y","type":"quantitative","scale":{"domain":[0.034775,0.048675],"nice":false,"zero":false},"axis":{"orient":"right","values":[0.036,0.038,0.04,0.042,0.044,0.046,0.048],"format":".3f","title":"Absolute Estimate Error","offset":4,"domainColor":"blue","tickColor":"blue","labelAngle":-90,"labelAlign":"center","labelBaseline":"top","titleAngle":270,"titleBaseline":"top","domainDash":[0,17.27,169.21,1000]}},"strokeDash":{"field":"n","type":"nominal","scale":{"domain":["n=1","n=5","n=10"],"range":[[1,0],[4,4],[1,2.5]]},"legend":{"title":null,"orient":"none","legendX":18,"legendY":66}}}}
]},
{"width":256,"height":196,"title":{"text":"(3b) grid structure,  kᵢ = sin(θᵢ) + ε ,  σε =0.01","orient":"bottom"},
"resolve":{"scale":{"y":"independent"}},
"encoding":{"x":{"field":"x","type":"quantitative","scale":{"domain":[-60,1560],"nice":false,"zero":false},"axis":{"values":[0,200,400,600,800,1000,1200,1400],"labelOverlap":false,"title":"Iteration Number","domainDash":[0,9.48,237.04,1000]}}},
"layer":[
{"data":{"name":"time"},"transform":[{"filter":"datum.p == '3b'"},{"fold":["n=1","n=5","n=10"],"as":["n","y"]}],
"encoding":{"y":{"field":"y","type":"quantitative","scale":{"domain":[-1621,42139],"nice":false,"zero":false},"axis":{"orient":"left","values":[0,10000,20000,30000,40000],"title":"Running Time (seconds)","labelAngle":-90,"labelAlign":"center","labelBaseline":"bottom","domainDash":[0,7.26,179.16,1000]}}},
"layer":[
{"mark":{"type":"line","color":"black","strokeWidth":1},"encoding":{"strokeDash":{"field":"n","type":"nominal","scale":{"domain":["n=1","n=5","n=10"],"range":[[1,0],[4,4],[1,2.5]]},"legend":{"title":null,"orient":"none","legendX":18,"legendY":72}}}},
{"mark":{"type":"circle","color":"black","size":10,"opacity":1},"encoding":{}}
]},
{"data":{"name":"err"},"transform":[{"filter":"datum.p == '3b'"},{"fold":["n=1","n=5","n=10"],"as":["n","y"]}],
"mark":{"type":"line","color":"blue","strokeWidth":1},"encoding":{"y":{"field":"y","type":"quantitative","scale":{"domain":[0.039532,0.052168],"nice":false,"zero":false},"axis":{"orient":"right","values":[0.04,0.042,0.044,0.046,0.048,0.05],"format":".3f","title":"Absolute Estimate Error","offset":4,"domainColor":"blue","tickColor":"blue","labelAngle":-90,"labelAlign":"center","labelBaseline":"top","titleAngle":270,"titleBaseline":"top","domainDash":[0,7.26,155.11,1000]}},"strokeDash":{"field":"n","type":"nominal","scale":{"domain":["n=1","n=5","n=10"],"range":[[1,0],[4,4],[1,2.5]]},"legend":{"title":null,"orient":"none","legendX":18,"legendY":72}}}}
]},
{"width":256,"height":196,"title":{"text":"(3c) grid structure,  kᵢ = sin(θᵢ) + ε ,  σε =0.02","orient":"bottom"},
"resolve":{"scale":{"y":"independent"}},
"encoding":{"x":{"field":"x","type":"quantitative","scale":{"domain":[-60,1560],"nice":false,"zero":false},"axis":{"values":[0,200,400,600,800,1000,1200,1400],"labelOverlap":false,"title":"Iteration Number","domainDash":[0,9.48,237.04,1000]}}},
"layer":[
{"data":{"name":"time"},"transform":[{"filter":"datum.p == '3c'"},{"fold":["n=1","n=5","n=10"],"as":["n","y"]}],
"encoding":{"y":{"field":"y","type":"quantitative","scale":{"domain":[-1600,41600],"nice":false,"zero":false},"axis":{"orient":"left","values":[0,10000,20000,30000,40000],"title":"Running Time (seconds)","labelAngle":-90,"labelAlign":"center","labelBaseline":"bottom","domainDash":[0,7.26,181.48,1000]}}},
"layer":[
{"mark":{"type":"line","color":"black","strokeWidth":1},"encoding":{"strokeDash":{"field":"n","type":"nominal","scale":{"domain":["n=1","n=5","n=10"],"range":[[1,0],[4,4],[1,2.5]]},"legend":{"title":null,"orient":"none","legendX":18,"legendY":69}}}},
{"mark":{"type":"circle","color":"black","size":10,"opacity":1},"encoding":{}}
]},
{"data":{"name":"err"},"transform":[{"filter":"datum.p == '3c'"},{"fold":["n=1","n=5","n=10"],"as":["n","y"]}],
"mark":{"type":"line","color":"blue","strokeWidth":1},"encoding":{"y":{"field":"y","type":"quantitative","scale":{"domain":[0.044734,0.055166],"nice":false,"zero":false},"axis":{"orient":"right","values":[0.046,0.048,0.05,0.052,0.054],"format":".3f","title":"Absolute Estimate Error","offset":4,"domainColor":"blue","tickColor":"blue","labelAngle":-90,"labelAlign":"center","labelBaseline":"top","titleAngle":270,"titleBaseline":"top","domainDash":[0,23.79,150.31,1000]}},"strokeDash":{"field":"n","type":"nominal","scale":{"domain":["n=1","n=5","n=10"],"range":[[1,0],[4,4],[1,2.5]]},"legend":{"title":null,"orient":"none","legendX":18,"legendY":69}}}}
]},
{"width":256,"height":196,"title":{"text":"(4a) grid structure,  kᵢ = θᵢ² + ε ,  σε =0","orient":"bottom"},
"resolve":{"scale":{"y":"independent"}},
"encoding":{"x":{"field":"x","type":"quantitative","scale":{"domain":[-88,2288],"nice":false,"zero":false},"axis":{"values":[0,200,400,600,800,1000,1200,1400,1600,1800,2000],"labelExpr":"(datum.value == 1000 || datum.value == 1400 || datum.value == 1800) ? '' : datum.label","labelOverlap":false,"title":"Iteration Number","domainDash":[0,9.48,237.04,1000]}}},
"layer":[
{"data":{"name":"time"},"transform":[{"filter":"datum.p == '4a'"},{"fold":["n=1","n=5","n=10"],"as":["n","y"]}],
"encoding":{"y":{"field":"y","type":"quantitative","scale":{"domain":[-2092,54400],"nice":false,"zero":false},"axis":{"orient":"left","values":[0,10000,20000,30000,40000,50000],"title":"Running Time (seconds)","labelAngle":-90,"labelAlign":"center","labelBaseline":"bottom","domainDash":[0,7.26,173.47,1000]}}},
"layer":[
{"mark":{"type":"line","color":"black","strokeWidth":1},"encoding":{"strokeDash":{"field":"n","type":"nominal","scale":{"domain":["n=1","n=5","n=10"],"range":[[1,0],[4,4],[1,2.5]]},"legend":{"title":null,"orient":"none","legendX":14.5,"legendY":68,"labelFontSize":7,"symbolSize":196,"labelOffset":7,"padding":4,"rowPadding":-5}}}},
{"mark":{"type":"circle","color":"black","size":10,"opacity":1},"encoding":{}}
]},
{"data":{"name":"err"},"transform":[{"filter":"datum.p == '4a'"},{"fold":["n=1","n=5","n=10"],"as":["n","y"]}],
"mark":{"type":"line","color":"blue","strokeWidth":1},"encoding":{"y":{"field":"y","type":"quantitative","scale":{"domain":[0.032115,0.048995],"nice":false,"zero":false},"axis":{"orient":"right","values":[0.035,0.04,0.045],"format":".3f","title":"Absolute Estimate Error","offset":4,"domainColor":"blue","tickColor":"blue","labelAngle":-90,"labelAlign":"center","labelBaseline":"top","titleAngle":270,"titleBaseline":"top","domainDash":[0,33.5,116.11,1000]}},"strokeDash":{"field":"n","type":"nominal","scale":{"domain":["n=1","n=5","n=10"],"range":[[1,0],[4,4],[1,2.5]]},"legend":{"title":null,"orient":"none","legendX":14.5,"legendY":68,"labelFontSize":7,"symbolSize":196,"labelOffset":7,"padding":4,"rowPadding":-5}}}}
]},
{"width":256,"height":196,"title":{"text":"(4b) grid structure,  kᵢ = θᵢ² + ε ,  σε =0.01","orient":"bottom"},
"resolve":{"scale":{"y":"independent"}},
"encoding":{"x":{"field":"x","type":"quantitative","scale":{"domain":[-88,2288],"nice":false,"zero":false},"axis":{"values":[0,200,400,600,800,1000,1200,1400,1600,1800,2000],"labelExpr":"(datum.value == 1000 || datum.value == 1400 || datum.value == 1800) ? '' : datum.label","labelOverlap":false,"title":"Iteration Number","domainDash":[0,9.48,237.04,1000]}}},
"layer":[
{"data":{"name":"time"},"transform":[{"filter":"datum.p == '4b'"},{"fold":["n=1","n=5","n=10"],"as":["n","y"]}],
"encoding":{"y":{"field":"y","type":"quantitative","scale":{"domain":[-2104,54715],"nice":false,"zero":false},"axis":{"orient":"left","values":[0,10000,20000,30000,40000,50000],"title":"Running Time (seconds)","labelAngle":-90,"labelAlign":"center","labelBaseline":"bottom","domainDash":[0,7.26,172.48,1000]}}},
"layer":[
{"mark":{"type":"line","color":"black","strokeWidth":1},"encoding":{"strokeDash":{"field":"n","type":"nominal","scale":{"domain":["n=1","n=5","n=10"],"range":[[1,0],[4,4],[1,2.5]]},"legend":{"title":null,"orient":"none","legendX":15,"legendY":66,"labelFontSize":7,"symbolSize":196,"labelOffset":7,"padding":4,"rowPadding":-5}}}},
{"mark":{"type":"circle","color":"black","size":10,"opacity":1},"encoding":{}}
]},
{"data":{"name":"err"},"transform":[{"filter":"datum.p == '4b'"},{"fold":["n=1","n=5","n=10"],"as":["n","y"]}],
"mark":{"type":"line","color":"blue","strokeWidth":1},"encoding":{"y":{"field":"y","type":"quantitative","scale":{"domain":[0.034403,0.050517],"nice":false,"zero":false},"axis":{"orient":"right","values":[0.035,0.04,0.045,0.05],"format":".3f","title":"Absolute Estimate Error","offset":4,"domainColor":"blue","tickColor":"blue","labelAngle":-90,"labelAlign":"center","labelBaseline":"top","titleAngle":270,"titleBaseline":"top","domainDash":[0,7.26,182.45,1000]}},"strokeDash":{"field":"n","type":"nominal","scale":{"domain":["n=1","n=5","n=10"],"range":[[1,0],[4,4],[1,2.5]]},"legend":{"title":null,"orient":"none","legendX":15,"legendY":66,"labelFontSize":7,"symbolSize":196,"labelOffset":7,"padding":4,"rowPadding":-5}}}}
]},
{"width":256,"height":196,"title":{"text":"(4c) grid structure,  kᵢ = θᵢ² + ε ,  σε =0.02","orient":"bottom"},
"resolve":{"scale":{"y":"independent"}},
"encoding":{"x":{"field":"x","type":"quantitative","scale":{"domain":[-88,2288],"nice":false,"zero":false},"axis":{"values":[0,200,400,600,800,1000,1200,1400,1600,1800,2000],"labelExpr":"(datum.value == 1000 || datum.value == 1400 || datum.value == 1800) ? '' : datum.label","labelOverlap":false,"title":"Iteration Number","domainDash":[0,9.48,237.04,1000]}}},
"layer":[
{"data":{"name":"time"},"transform":[{"filter":"datum.p == '4c'"},{"fold":["n=1","n=5","n=10"],"as":["n","y"]}],
"encoding":{"y":{"field":"y","type":"quantitative","scale":{"domain":[-2064,53676],"nice":false,"zero":false},"axis":{"orient":"left","values":[0,10000,20000,30000,40000,50000],"title":"Running Time (seconds)","labelAngle":-90,"labelAlign":"center","labelBaseline":"bottom","domainDash":[0,7.26,175.81,1000]}}},
"layer":[
{"mark":{"type":"line","color":"black","strokeWidth":1},"encoding":{"strokeDash":{"field":"n","type":"nominal","scale":{"domain":["n=1","n=5","n=10"],"range":[[1,0],[4,4],[1,2.5]]},"legend":{"title":null,"orient":"none","legendX":15.5,"legendY":74,"labelFontSize":7,"symbolSize":196,"labelOffset":7,"padding":4,"rowPadding":-5}}}},
{"mark":{"type":"circle","color":"black","size":10,"opacity":1},"encoding":{}}
]},
{"data":{"name":"err"},"transform":[{"filter":"datum.p == '4c'"},{"fold":["n=1","n=5","n=10"],"as":["n","y"]}],
"mark":{"type":"line","color":"blue","strokeWidth":1},"encoding":{"y":{"field":"y","type":"quantitative","scale":{"domain":[0.036868,0.052042],"nice":false,"zero":false},"axis":{"orient":"right","values":[0.038,0.04,0.042,0.044,0.046,0.048,0.05,0.052],"format":".3f","title":"Absolute Estimate Error","offset":4,"domainColor":"blue","tickColor":"blue","labelAngle":-90,"labelAlign":"center","labelBaseline":"top","titleAngle":270,"titleBaseline":"top","domainDash":[0,14.62,180.84,1000]}},"strokeDash":{"field":"n","type":"nominal","scale":{"domain":["n=1","n=5","n=10"],"range":[[1,0],[4,4],[1,2.5]]},"legend":{"title":null,"orient":"none","legendX":15.5,"legendY":74,"labelFontSize":7,"symbolSize":196,"labelOffset":7,"padding":4,"rowPadding":-5}}}}
]}
]
}
